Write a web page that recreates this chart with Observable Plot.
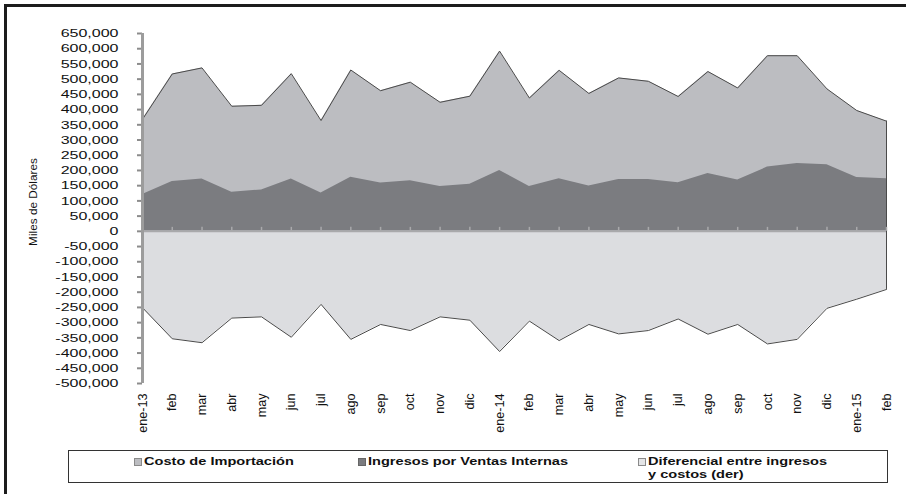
<!DOCTYPE html>
<html>
<head>
<meta charset="utf-8">
<script src="https://cdn.jsdelivr.net/npm/d3@7"></script>
<script src="https://cdn.jsdelivr.net/npm/@observablehq/plot@0.6"></script>
<style>
  html, body { margin: 0; padding: 0; background: #fff; }
  #wrap { position: relative; width: 906px; height: 494px; overflow: hidden; font-family: "Liberation Sans", Arial, sans-serif; }
  #chart { position: absolute; left: 0; top: 0; }
  #frame { position: absolute; left: 4px; top: 4px; width: 920px; height: 520px; border-left: 3px solid #1c1c1c; border-top: 3px solid #1c1c1c; pointer-events: none; z-index: 5; }
  #legend { position: absolute; left: 68px; top: 450px; width: 818px; height: 31px; border: 1px solid #333; }
  .sq { position: absolute; width: 6px; height: 6px; border: 1px solid #8a8a8a; }
  .lt { position: absolute; font-weight: bold; font-size: 10.8px; line-height: 12.5px; color: #111; white-space: nowrap; transform: scaleX(1.35); transform-origin: left top; }
</style>
</head>
<body>
<div id="wrap">
  <div id="chart"></div>
  <div id="frame"></div>
  <div id="legend"></div>
  <div class="sq" style="left:134px;top:458px;background:#bcbdc1;"></div>
  <div class="lt" style="left:144px;top:455px;" id="l1"></div>
  <div class="sq" style="left:358px;top:458px;background:#7b7c80;border-color:#666;"></div>
  <div class="lt" style="left:368px;top:455px;" id="l2"></div>
  <div class="sq" style="left:638px;top:458px;background:#e4e5e7;"></div>
  <div class="lt" style="left:648px;top:455px;" id="l3"></div>
</div>
<script>
const labels = ["ene-13","feb","mar","abr","may","jun","jul","ago","sep","oct","nov","dic",
  "ene-14","feb","mar","abr","may","jun","jul","ago","sep","oct","nov","dic","ene-15","feb"];

const costo = [368000, 517000, 537000, 411000, 414000, 518000, 364000, 530000, 462000, 490000, 424000, 444000,
  592000, 438000, 529000, 453000, 504000, 493000, 443000, 525000, 471000, 577000, 577000, 468000, 397000, 362000];

const ingresos = [121000, 164000, 172000, 128000, 136000, 172000, 126000, 178000, 159000, 166000, 147000, 155000,
  200000, 147000, 173000, 149000, 170000, 170000, 160000, 190000, 169000, 211000, 223000, 219000, 177000, 173000];

const diferencial = [-251000, -353000, -366000, -285000, -281000, -348000, -240000, -355000, -306000, -326000, -281000, -292000,
  -395000, -295000, -359000, -306000, -337000, -326000, -288000, -338000, -306000, -370000, -355000, -253000, -223000, -191000];

const yTicks = d3.range(-500000, 650001, 50000);
const seriesNames = ["Costo de Importación", "Ingresos por Ventas Internas", "Diferencial entre ingresos", "y costos (der)"];
const yTitle = "Miles de Dólares";

const rows = labels.map((l, i) => ({i, label: l, costo: costo[i], ingresos: ingresos[i], dif: diferencial[i]}));
const last = rows[rows.length - 1];
const fmt = d => d === 0 ? "0" : (d < 0 ? "-" : "") + Math.abs(d).toLocaleString("en-US");

const plot = Plot.plot({
  width: 906,
  height: 445,
  marginLeft: 142,
  marginRight: 20,
  marginTop: 33,
  marginBottom: 62,
  style: {fontFamily: "'Liberation Sans', Arial, sans-serif", background: "transparent", overflow: "visible"},
  x: {type: "linear", domain: [0, labels.length - 1], axis: null},
  y: {domain: [-500000, 650000], axis: null},
  marks: [
    Plot.areaY(rows, {x: "i", y: "costo", fill: "#bcbdc1"}),
    Plot.areaY(rows, {x: "i", y: "ingresos", fill: "#7b7c80"}),
    Plot.areaY(rows, {x: "i", y: "dif", fill: "#dcdde0"}),
    Plot.lineY(rows, {x: "i", y: "costo", stroke: "#4a4a4a", strokeWidth: 1}),
    Plot.lineY(rows, {x: "i", y: "dif", stroke: "#4a4a4a", strokeWidth: 1}),
    Plot.ruleX([last], {x: "i", y1: "dif", y2: "costo", stroke: "#4a4a4a", strokeWidth: 1}),
    Plot.ruleY([0], {stroke: "#a9a9ab", strokeWidth: 2}),
    Plot.ruleX(rows, {x: "i", y1: 0, y2: 13000, stroke: "#a9a9ab", strokeWidth: 1.5}),
    Plot.axisY({ticks: yTicks, tickFormat: fmt, tickSize: 5, tickPadding: 19, stroke: "#8c8c8c", strokeWidth: 2, fontSize: 11.6, fill: "#111", label: null}),
    Plot.ruleX([0], {y1: -500000, y2: 650000, stroke: "#9c9c9c", strokeWidth: 3}),
    Plot.text(rows, {x: "i", text: "label", frameAnchor: "bottom", dy: 10, rotate: -90, textAnchor: "end", lineAnchor: "middle", fontSize: 12.6, fill: "#111"}),
    Plot.text([yTitle], {text: d => d, frameAnchor: "left", dx: -109.5, dy: -6.5, rotate: -90, textAnchor: "middle", lineAnchor: "middle", fontSize: 11.8, fill: "#111"})
  ]
});

// widen y tick labels horizontally to match the reference's stretched type
plot.querySelectorAll('g[aria-label="y-axis tick label"] text').forEach(t => {
  const tr = t.getAttribute("transform");
  if (tr && tr.includes("translate")) {
    t.setAttribute("transform", tr + " scale(1.38,1)");
  } else {
    const x = +(t.getAttribute("x") || 0), y = +(t.getAttribute("y") || 0);
    t.removeAttribute("x"); t.removeAttribute("y");
    t.setAttribute("transform", `translate(${x},${y}) scale(1.38,1)` + (tr ? " " + tr : ""));
  }
});

document.getElementById("chart").appendChild(plot);
document.getElementById("l1").textContent = seriesNames[0];
document.getElementById("l2").textContent = seriesNames[1];
document.getElementById("l3").innerHTML = "";
document.getElementById("l3").append(seriesNames[2], document.createElement("br"), seriesNames[3]);
</script>
</body>
</html>
